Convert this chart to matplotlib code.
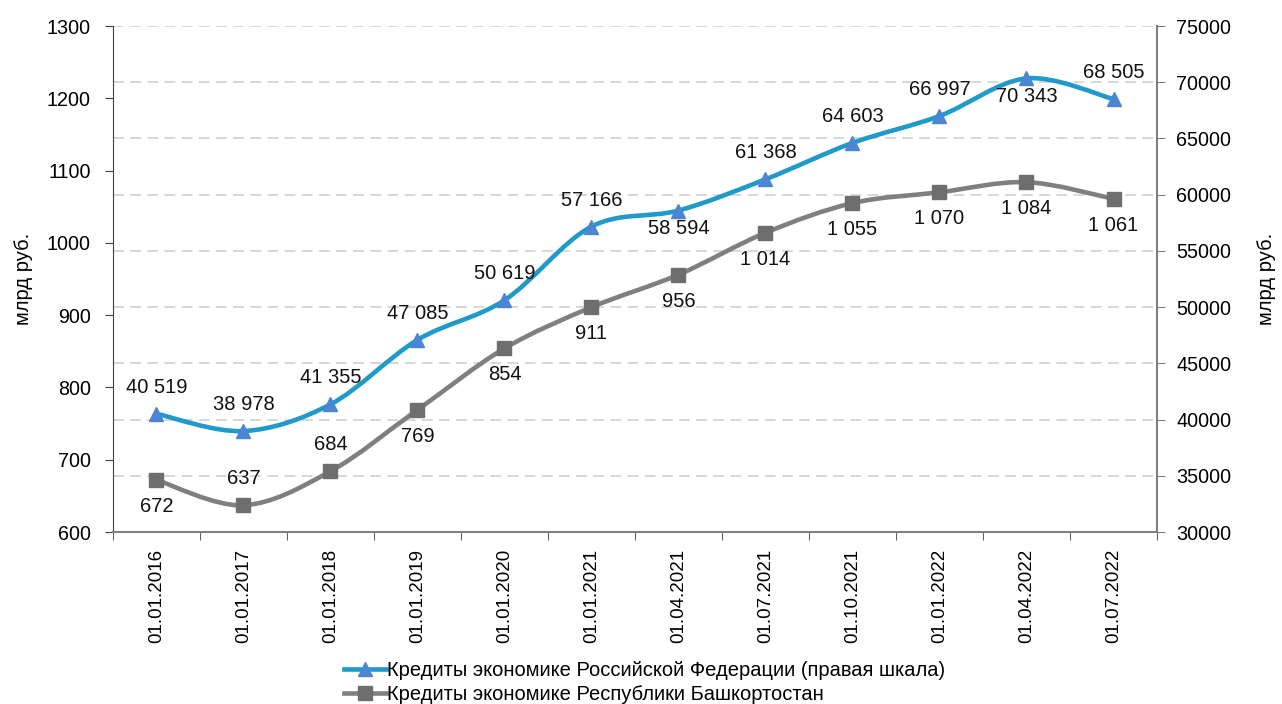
import matplotlib
matplotlib.use("Agg")
import matplotlib.pyplot as plt
from matplotlib.path import Path
from matplotlib.patches import PathPatch
from matplotlib.lines import Line2D
import numpy as np

plt.rcParams['font.family'] = ['Liberation Sans', 'DejaVu Sans']

dates = ["01.01.2016", "01.01.2017", "01.01.2018", "01.01.2019", "01.01.2020",
         "01.01.2021", "01.04.2021", "01.07.2021", "01.10.2021", "01.01.2022",
         "01.04.2022", "01.07.2022"]
rf_credit = [40519, 38978, 41355, 47085, 50619, 57166, 58594, 61368, 64603, 66997, 70343, 68505]
rb_credit = [672, 637, 684, 769, 854, 911, 956, 1014, 1055, 1070, 1084, 1061]
rf_label_pos = ["up", "up", "up", "up", "up", "up", "down", "up", "up", "up", "down", "up"]
rb_label_pos = ["down", "up", "up", "down", "down", "down", "down", "down", "down", "down", "down", "down"]

rf_name = "Кредиты экономике Российской Федерации (правая шкала)"
rb_name = "Кредиты экономике Республики Башкортостан"

blue = "#1f9ac9"
blue_m = "#4a86d4"
grey = "#7f7f7f"
grey_m = "#6e6e6e"


def smooth_path(xs, ys):
    xs = np.asarray(xs, float)
    ys = np.asarray(ys, float)
    n = len(xs)
    verts = [(xs[0], ys[0])]
    codes = [Path.MOVETO]
    for i in range(n - 1):
        p0 = np.array([xs[max(i - 1, 0)], ys[max(i - 1, 0)]])
        p1 = np.array([xs[i], ys[i]])
        p2 = np.array([xs[i + 1], ys[i + 1]])
        p3 = np.array([xs[min(i + 2, n - 1)], ys[min(i + 2, n - 1)]])
        c1 = p1 + (p2 - p0) / 6.0
        c2 = p2 - (p3 - p1) / 6.0
        verts += [tuple(c1), tuple(c2), tuple(p2)]
        codes += [Path.CURVE4] * 3
    return Path(verts, codes)


fig = plt.figure(figsize=(12.82, 7.04), dpi=100)
ax = fig.add_axes([0.0881, 0.2443, 0.8144, 0.7187])
ax2 = ax.twinx()

x = np.arange(len(dates))

# grid (right scale)
for v in range(30000, 75001, 5000):
    ax2.axhline(v, color="#d4d4d4", lw=1.3, ls=(0, (6, 3.5)), zorder=0)

ax2.add_patch(PathPatch(smooth_path(x, rf_credit), fc="none", ec=blue, lw=3.3, zorder=3))
ax2.plot(x, rf_credit, ls="none", marker="^", ms=9.5, mfc=blue_m, mec=blue_m, zorder=4)
ax.add_patch(PathPatch(smooth_path(x, rb_credit), fc="none", ec=grey, lw=3.3, zorder=3))
ax.plot(x, rb_credit, ls="none", marker="s", ms=10, mfc=grey_m, mec=grey_m, zorder=4)

ax.set_zorder(ax2.get_zorder() + 1)
ax.patch.set_visible(False)

fs = 13.5
fs_y = 14.2
fs_lab = 14.5
for xi, v, pos in zip(x, rf_credit, rf_label_pos):
    txt = f"{v:,}".replace(",", " ")
    off = 19 if pos == "up" else -13
    ax2.annotate(txt, (xi, v), xytext=(0, off), textcoords="offset points",
                 ha="center", va="center", fontsize=fs_lab, color="#111111", zorder=6)
for xi, v, pos in zip(x, rb_credit, rb_label_pos):
    txt = f"{v:,}".replace(",", " ")
    off = 19 if pos == "up" else -19
    ax.annotate(txt, (xi, v), xytext=(0, off), textcoords="offset points",
                ha="center", va="center", fontsize=fs_lab, color="#111111", zorder=6)

ax.set_xlim(-0.5, len(dates) - 0.5)
ax.set_ylim(600, 1300)
ax.set_yticks(range(600, 1301, 100))
ax2.set_ylim(30000, 75000)
ax2.set_yticks(range(30000, 75001, 5000))

ax.set_xticks(x)
ax.set_xticklabels(dates, rotation=90, fontsize=fs)
ax.set_xticks(np.arange(-0.5, len(dates), 1.0), minor=True)
ax.tick_params(axis="x", which="major", length=0, pad=12)
ax.tick_params(axis="x", which="minor", length=6, color="#404040", direction="out")
ax.tick_params(axis="y", labelsize=fs_y, length=6, color="#404040", pad=10)
ax2.tick_params(axis="y", labelsize=fs_y, length=6, color="#808080", pad=8)

ax.spines["top"].set_visible(False)
ax2.spines["top"].set_visible(False)
ax.spines["right"].set_visible(False)
ax2.spines["left"].set_visible(False)
ax.spines["left"].set_color("#404040")
ax.spines["bottom"].set_color("#808080")
ax.spines["bottom"].set_linewidth(1.5)
ax2.spines["bottom"].set_visible(False)
ax2.spines["right"].set_color("#808080")
ax2.spines["right"].set_linewidth(1.5)

ax.set_ylabel("млрд руб.", fontsize=fs_lab, labelpad=10)
ax2.set_ylabel("млрд руб.", fontsize=fs_lab, labelpad=18)

handles = [
    Line2D([], [], color=blue, lw=3.3, marker="^", ms=9.5, mfc=blue_m, mec=blue_m),
    Line2D([], [], color=grey, lw=3.3, marker="s", ms=10, mfc=grey_m, mec=grey_m),
]
fig.legend(handles, [rf_name, rb_name], loc="upper center", bbox_to_anchor=(0.503, 0.072),
           frameon=False, fontsize=fs_lab, handlelength=2.1, handletextpad=0.05,
           labelspacing=0.25, borderaxespad=0)

fig.savefig("out.png", dpi=100)
